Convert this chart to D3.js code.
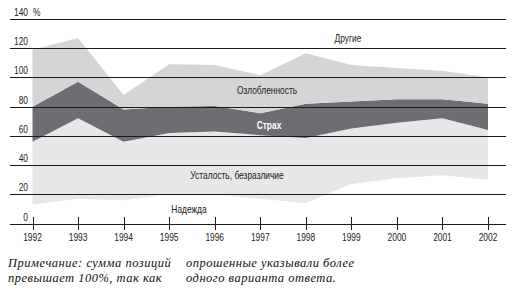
<!DOCTYPE html>
<meta charset="utf-8">
<style>
  body { margin: 0; background: #fff; }
  svg { display: block; }
  .lbl { font-family: "Liberation Sans", Arial, sans-serif; font-size: 10px; fill: #222; }
  .note { font-family: "Liberation Serif", "DejaVu Serif", serif; font-style: italic; font-size: 12.5px; letter-spacing: 0.5px; fill: #111; }
</style>
<body>
<script src="https://d3js.org/d3.v7.min.js"></script>
<script>
// data, % of respondents (stacked bands)
var years   = [1992, 1993, 1994, 1995, 1996, 1997, 1998, 1999, 2000, 2001, 2002];
var hope    = [13, 17, 16, 20, 20, 17, 14, 27, 31, 33, 30];         // Надежда
var fatigue = [43, 55, 40, 42, 43, 43.5, 44.5, 38, 38, 39, 34];     // Усталость, безразличие
var fear    = [24, 25, 22, 18, 17.5, 15, 23.5, 18.5, 16, 13, 18];   // Страх
var anger   = [39, 30, 10, 29, 28, 26, 34.5, 25, 21.5, 19.5, 18];   // Озлобленность / Другие
var yTicks  = [0, 20, 40, 60, 80, 100, 120, 140];

var width = 524, height = 292;
var squeeze = 0.84; // narrow look of the original typeface

var svg = d3.select("body").append("svg")
  .attr("width", width)
  .attr("height", height);

var x = d3.scaleLinear().domain([1992, 2002]).range([32.5, 488]);
var y = d3.scaleLinear().domain([0, 140]).range([223.5, 19]);

var table = years.map(function(yr, i){
  return {year: yr, hope: hope[i], fatigue: fatigue[i], fear: fear[i], anger: anger[i]};
});

var keys = ["hope", "fatigue", "fear", "anger"];
var fills = {hope: "#ffffff", fatigue: "#e6e7e8", fear: "#6d6e71", anger: "#d4d5d7"};

var series = d3.stack().keys(keys)(table);

var area = d3.area()
  .x(function(d){ return x(d.data.year); })
  .y0(function(d){ return y(d[0]); })
  .y1(function(d){ return y(d[1]); });

svg.append("g").selectAll("path")
  .data(series)
  .enter().append("path")
    .attr("d", area)
    .attr("fill", function(d){ return fills[d.key]; });

// horizontal grid lines (and the base axis)
svg.append("g").selectAll("line")
  .data(yTicks)
  .enter().append("line")
    .attr("x1", 10)
    .attr("x2", 506)
    .attr("y1", function(d){ return Math.round(y(d)) + 0.5; })
    .attr("y2", function(d){ return Math.round(y(d)) + 0.5; })
    .attr("stroke", "#1a1a1a")
    .attr("stroke-width", 1);

function place(px, py){
  return "translate(" + px + "," + py + ") scale(" + squeeze + ",1)";
}

// y labels, sitting above each line
svg.append("g").selectAll("text")
  .data(yTicks)
  .enter().append("text")
    .attr("class", "lbl")
    .attr("transform", function(d){ return place(28, Math.round(y(d)) - 3); })
    .attr("text-anchor", "end")
    .text(function(d){ return d; });

svg.append("text")
  .attr("class", "lbl")
  .attr("transform", place(33, Math.round(y(140)) - 3))
  .text("%");

// year ticks crossing the axis
var xt = svg.append("g");
xt.selectAll("line")
  .data(years)
  .enter().append("line")
    .attr("x1", function(d){ return Math.round(x(d)) + 0.5; })
    .attr("x2", function(d){ return Math.round(x(d)) + 0.5; })
    .attr("y1", 217)
    .attr("y2", 230)
    .attr("stroke", "#1a1a1a");

xt.selectAll("text")
  .data(years)
  .enter().append("text")
    .attr("class", "lbl")
    .attr("transform", function(d){ return place(x(d), 241); })
    .attr("text-anchor", "middle")
    .text(function(d){ return d; });

// band labels
var bandLabels = [
  {t: "Другие", x: 348, y: 42, c: "#222", w: "normal"},
  {t: "Озлобленность", x: 267, y: 94, c: "#222", w: "normal"},
  {t: "Страх", x: 269, y: 129, c: "#fff", w: "bold"},
  {t: "Усталость, безразличие", x: 237, y: 179, c: "#222", w: "normal"},
  {t: "Надежда", x: 189, y: 213, c: "#222", w: "normal"}
];

svg.append("g").selectAll("text")
  .data(bandLabels)
  .enter().append("text")
    .attr("class", "lbl")
    .attr("transform", function(d){ return place(d.x, d.y); })
    .attr("text-anchor", "middle")
    .style("fill", function(d){ return d.c; })
    .style("font-weight", function(d){ return d.w; })
    .text(function(d){ return d.t; });

// note below the chart
var notes = [
  {t: "Примечание: сумма позиций", x: 8, y: 267},
  {t: "превышает 100%, так как", x: 8, y: 282},
  {t: "опрошенные указывали более", x: 186, y: 267},
  {t: "одного варианта ответа.", x: 186, y: 282}
];

svg.append("g").selectAll("text")
  .data(notes)
  .enter().append("text")
    .attr("class", "note")
    .attr("x", function(d){ return d.x; })
    .attr("y", function(d){ return d.y; })
    .text(function(d){ return d.t; });
</script>
</body>
